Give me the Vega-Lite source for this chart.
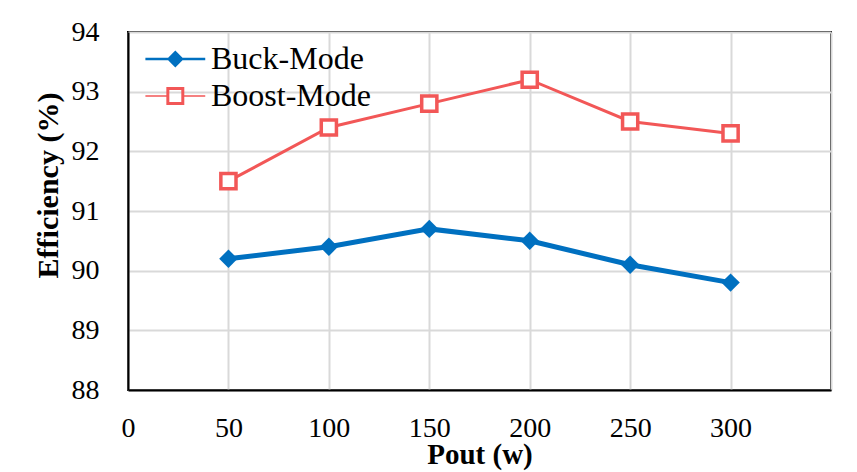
{
  "$schema": "https://vega.github.io/schema/vega-lite/v6.json",
  "width": 703,
  "height": 358,
  "autosize": {"type": "none"},
  "padding": {"left": 128, "top": 32, "right": 26, "bottom": 82},
  "background": "white",
  "config": {
    "font": "Liberation Serif",
    "view": {"stroke": "black", "strokeWidth": 2}
  },
  "data": {
    "values": [
      {"series": "Buck-Mode", "pout": 50, "eff": 90.2},
      {"series": "Buck-Mode", "pout": 100, "eff": 90.4},
      {"series": "Buck-Mode", "pout": 150, "eff": 90.7},
      {"series": "Buck-Mode", "pout": 200, "eff": 90.5},
      {"series": "Buck-Mode", "pout": 250, "eff": 90.1},
      {"series": "Buck-Mode", "pout": 300, "eff": 89.8},
      {"series": "Boost-Mode", "pout": 50, "eff": 91.5},
      {"series": "Boost-Mode", "pout": 100, "eff": 92.4},
      {"series": "Boost-Mode", "pout": 150, "eff": 92.8},
      {"series": "Boost-Mode", "pout": 200, "eff": 93.2},
      {"series": "Boost-Mode", "pout": 250, "eff": 92.5},
      {"series": "Boost-Mode", "pout": 300, "eff": 92.3}
    ]
  },
  "encoding": {
    "x": {
      "field": "pout", "type": "quantitative",
      "scale": {"domain": [0, 350], "nice": false, "zero": false},
      "axis": {
        "values": [0, 50, 100, 150, 200, 250, 300, 350],
        "labelExpr": "datum.value > 300 ? '' : datum.label",
        "labelFlush": false,
        "labelFontSize": 28, "labelColor": "black", "labelPadding": 24,
        "ticks": false, "domainColor": "black", "domainWidth": 2,
        "gridColor": "#D9D9D9", "gridWidth": 2,
        "title": "Pout (w)", "titleFontSize": 29, "titleFontWeight": "bold",
        "titleColor": "black", "titlePadding": -2
      }
    },
    "y": {
      "field": "eff", "type": "quantitative",
      "scale": {"domain": [88, 94], "nice": false, "zero": false},
      "axis": {
        "values": [88, 89, 90, 91, 92, 93, 94],
        "labelFlush": false,
        "labelFontSize": 28, "labelColor": "black", "labelPadding": 29,
        "ticks": false, "domainColor": "black", "domainWidth": 2,
        "gridColor": "#D9D9D9", "gridWidth": 2,
        "title": "Efficiency (%)", "titleFontSize": 30, "titleFontWeight": "bold",
        "titleColor": "black", "titlePadding": 8, "titleY": 153
      }
    },
    "color": {
      "field": "series", "type": "nominal",
      "scale": {"domain": ["Buck-Mode", "Boost-Mode"], "range": ["#0070C0", "#F25757"]},
      "legend": {
        "title": null, "orient": "none", "legendX": 15, "legendY": 11,
        "padding": 0, "symbolSize": 740, "labelOffset": 36, "labelLimit": 400,
        "labelFontSize": 32, "labelColor": "black", "labelFont": "Liberation Serif",
        "rowPadding": 5,
        "encode": {
          "symbols": {
            "update": {
              "shape": {"signal": "datum.value === 'Buck-Mode' ? 'M-1,-0.09H3.4V0.09H-1Z M1.2,-0.62L1.82,0L1.2,0.62L0.58,0Z' : 'M-1,-0.055H0.54V0.055H-1Z M1.86,-0.055H3.4V0.055H1.86Z M0.54,-0.66H1.86V0.66H0.54Z M0.76,-0.44V0.44H1.64V-0.44Z'"},
              "fill": {"signal": "datum.value === 'Buck-Mode' ? '#0070C0' : '#F25757'"},
              "stroke": {"value": "transparent"},
              "strokeWidth": {"value": 0},
              "opacity": {"value": 1},
              "fillOpacity": {"value": 1}
            }
          }
        }
      }
    }
  },
  "layer": [
    {
      "transform": [{"filter": "datum.series === 'Buck-Mode'"}],
      "mark": {"type": "line", "strokeWidth": 5}
    },
    {
      "transform": [{"filter": "datum.series === 'Boost-Mode'"}],
      "mark": {"type": "line", "strokeWidth": 3}
    },
    {
      "transform": [{"filter": "datum.series === 'Buck-Mode'"}],
      "mark": {"type": "point", "shape": "diamond", "filled": true, "size": 340, "opacity": 1}
    },
    {
      "transform": [{"filter": "datum.series === 'Boost-Mode'"}],
      "mark": {"type": "point", "shape": "square", "filled": false, "fill": "white", "size": 230, "strokeWidth": 3.5, "opacity": 1}
    }
  ]
}
